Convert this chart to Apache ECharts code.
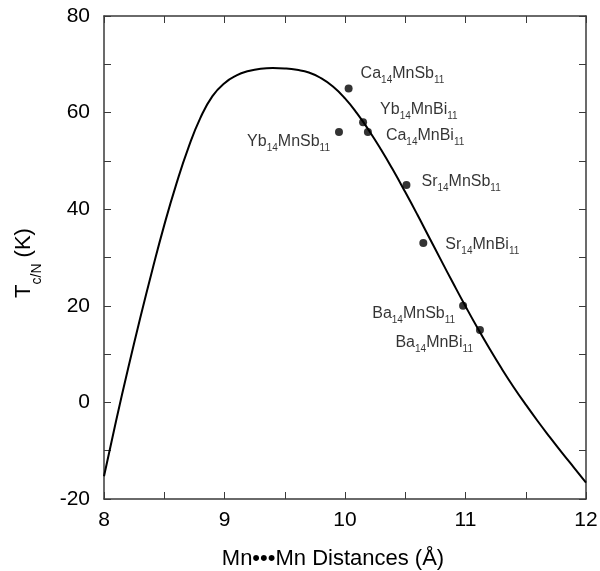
<!DOCTYPE html>
<html>
<head>
<meta charset="utf-8">
<script src="https://cdn.jsdelivr.net/npm/echarts@6/dist/echarts.min.js"></script>
<style>
  html, body { margin: 0; padding: 0; background: #fff; }
  #chart { width: 600px; height: 571px; }
</style>
</head>
<body>
<div id="chart"></div>
<script>
// measured compounds (Mn...Mn distance in Å, ordering temperature in K)
const compounds = ["Ca14MnSb11", "Yb14MnBi11", "Ca14MnBi11", "Yb14MnSb11",
                   "Sr14MnSb11", "Sr14MnBi11", "Ba14MnSb11", "Ba14MnBi11"];
const mnDistance = [10.03, 10.15, 10.19, 9.95, 10.51, 10.65, 10.98, 11.12];
const tcn = [65, 58, 56, 56, 45, 33, 20, 15];

// fitted curve
const curveX = [8.0, 8.1, 8.2, 8.3, 8.4, 8.5, 8.6, 8.7, 8.8, 8.9, 9.0, 9.1, 9.2, 9.3, 9.4,
                9.5, 9.6, 9.7, 9.8, 9.9, 10.0, 10.1, 10.2, 10.3, 10.4, 10.5, 10.6, 10.7,
                10.8, 10.9, 11.0, 11.1, 11.2, 11.3, 11.4, 11.5, 11.6, 11.7, 11.8, 11.9, 12.0];
const curveY = [-15.3, -3.85, 7.0, 17.4, 27.3, 36.7, 45.2, 52.7, 58.9, 63.4, 66.1, 67.7, 68.6,
                69.1, 69.25, 69.15, 68.85, 68.3, 67.15, 65.4, 62.95, 59.85, 56.25, 52.3, 48.05,
                43.55, 38.9, 34.1, 29.3, 24.55, 19.9, 15.4, 11.1, 7.0, 3.15, -0.45, -3.9, -7.2,
                -10.4, -13.5, -16.6];

const xTicks = [8, 9, 10, 11, 12];
const yTicks = [-20, 0, 20, 40, 60, 80];

// label placement per compound: side, dx, dy
const labelPlace = [
  ["right", 8, -15], ["right", 13, -13], ["right", 14, 4], ["left", -5, 10],
  ["right", 11, -3], ["right", 18, 2], ["left", -4, 8], ["left", -3, 13]
];

const FONT = "'Liberation Sans', Arial, Helvetica, sans-serif";
const AXIS_COLOR = "#3a3a3a";

const chart = echarts.init(document.getElementById("chart"));

const toRich = (name) =>
  name.replace(/(\D+)/g, "{m|$1}").replace(/(\d+)/g, "{s|$1}");

const points = compounds.map((name, i) => ({
  name,
  value: [mnDistance[i], tcn[i]],
  label: {
    position: labelPlace[i][0],
    offset: [labelPlace[i][1], labelPlace[i][2]],
  },
}));

const frameAxis = {
  axisLine: { show: true, onZero: false, lineStyle: { color: AXIS_COLOR, width: 1.5 } },
  axisTick: { show: true, inside: true, length: 7, lineStyle: { color: AXIS_COLOR, width: 1 } },
  splitLine: { show: false },
};

const option = {
  backgroundColor: "#fff",
  animation: false,
  grid: { left: 104, right: 14, top: 16, bottom: 72, outerBoundsMode: "none" },
  xAxis: [
    {
      ...frameAxis,
      type: "value",
      min: 8,
      max: 12,
      interval: 0.5,
      position: "bottom",
      axisLabel: {
        color: "#000",
        fontSize: 21,
        fontFamily: FONT,
        margin: 11,
        formatter: (v) => (xTicks.includes(v) ? String(v) : ""),
      },
      name: "Mn•••Mn Distances (Å)",
      nameLocation: "middle",
      nameGap: 49,
      nameTextStyle: { color: "#000", fontSize: 22, fontFamily: FONT, padding: [0, 24, 0, 0] },
    },
    {
      ...frameAxis,
      type: "value",
      min: 8,
      max: 12,
      interval: 0.5,
      position: "top",
      axisLabel: { show: false },
    },
  ],
  yAxis: [
    {
      ...frameAxis,
      type: "value",
      min: -20,
      max: 80,
      interval: 10,
      position: "left",
      axisLabel: {
        color: "#000",
        fontSize: 21,
        fontFamily: FONT,
        margin: 14,
        formatter: (v) => (yTicks.includes(v) ? String(v) : ""),
      },
      name: "T{s|c/N} (K)",
      nameLocation: "middle",
      nameRotate: 90,
      nameGap: 60,
      nameTextStyle: {
        color: "#000",
        fontSize: 22,
        fontFamily: FONT,
        lineHeight: 40,
        padding: [0, 11, 0, 0],
        rich: {
          s: { fontSize: 14, fontFamily: FONT, color: "#000", verticalAlign: "bottom" },
        },
      },
    },
    {
      ...frameAxis,
      type: "value",
      min: -20,
      max: 80,
      interval: 10,
      position: "right",
      axisLabel: { show: false },
    },
  ],
  series: [
    {
      type: "line",
      data: curveX.map((x, i) => [x, curveY[i]]),
      smooth: true,
      showSymbol: false,
      lineStyle: { color: "#000", width: 2 },
      z: 2,
    },
    {
      type: "scatter",
      data: points,
      symbol: "circle",
      symbolSize: 8,
      itemStyle: { color: "#000" },
      z: 3,
      label: {
        show: true,
        distance: 0,
        formatter: (p) => toRich(p.name),
        rich: {
          m: { fontSize: 16, fontFamily: FONT, color: "#000", lineHeight: 23 },
          s: { fontSize: 10, fontFamily: FONT, color: "#000", verticalAlign: "bottom" },
        },
      },
    },
  ],
};

chart.setOption(option);
</script>
</body>
</html>
